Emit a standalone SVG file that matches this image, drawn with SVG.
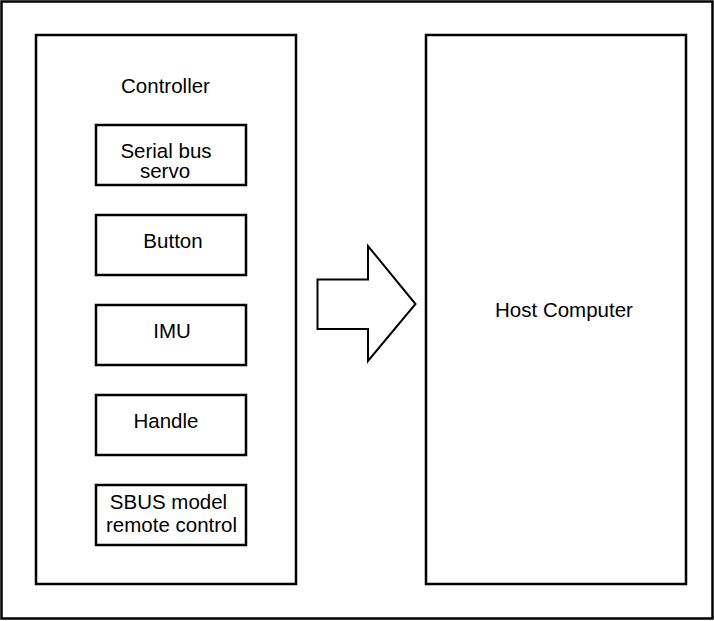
<svg xmlns="http://www.w3.org/2000/svg" width="714" height="621" viewBox="0 0 714 621">
<style>
.box{fill:#fff;stroke:#000;stroke-width:2.5}
.t{font-family:"Liberation Sans",Arial,sans-serif;font-size:20.5px;fill:#000;text-anchor:middle}
</style>
<rect x="0" y="0" width="714" height="621" fill="#fff"/>
<g id="frame"><rect class="box" x="1.5" y="1.5" width="711" height="617"/></g>
<g id="controller">
<rect class="box" x="36" y="35" width="260" height="549"/>
<text class="t" x="165.5" y="93">Controller</text>
</g>
<g id="serial-bus-servo">
<rect class="box" x="96" y="125" width="150" height="60"/>
<text class="t" x="166" y="158">Serial bus</text>
<text class="t" x="165" y="178">servo</text>
</g>
<g id="button">
<rect class="box" x="96" y="215" width="150" height="60"/>
<text class="t" x="173" y="248">Button</text>
</g>
<g id="imu">
<rect class="box" x="96" y="305" width="150" height="60"/>
<text class="t" x="172" y="338">IMU</text>
</g>
<g id="handle">
<rect class="box" x="96" y="395" width="150" height="60"/>
<text class="t" x="166" y="428">Handle</text>
</g>
<g id="sbus">
<rect class="box" x="96" y="485" width="150" height="60"/>
<text class="t" x="168.5" y="509">SBUS model</text>
<text class="t" x="171.5" y="532">remote control</text>
</g>
<g id="host">
<rect class="box" x="426" y="35" width="260" height="549"/>
<text class="t" x="564" y="317">Host Computer</text>
</g>
<g id="connectors">
<polygon points="317.5,279.5 368,279.5 368,246 415.5,304 368,361 368,329 317.5,329" fill="#fff" stroke="#000" stroke-width="2"/>
</g>
</svg>
